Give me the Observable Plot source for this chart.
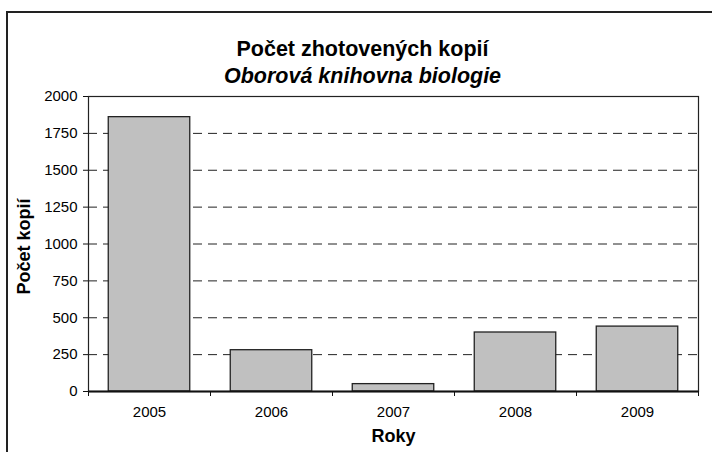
<!DOCTYPE html>
<html>
<head>
<meta charset="utf-8">
<script src="https://cdn.jsdelivr.net/npm/d3@7"></script>
<script src="https://cdn.jsdelivr.net/npm/@observablehq/plot@0.6"></script>
<style>
  html, body { margin: 0; padding: 0; background: #fff; overflow: hidden; }
  #wrap { position: relative; width: 712px; height: 452px; }
  #outer { position: absolute; left: 6px; top: 11px; width: 800px; height: 600px;
           border-left: 2px solid #222; border-top: 2px solid #222; pointer-events: none; }
  #chart { position: absolute; left: 0; top: 0; }
  #chart g[aria-label$="tick label"] { font-size: 15px; }
</style>
</head>
<body>
<div id="wrap"><div id="chart"></div><div id="outer"></div></div>
<script>
const years = [2005, 2006, 2007, 2008, 2009];
const copies = [1860, 280, 50, 400, 440];
const yTicks = [0, 250, 500, 750, 1000, 1250, 1500, 1750, 2000];
const gridValues = [250, 500, 750, 1000, 1250, 1500, 1750];
const title = "Počet zhotovených kopií";
const subtitle = "Oborová knihovna biologie";
const yLabel = "Počet kopií";
const xLabel = "Roky";

const barHalf = 0.334;
const data = years.map((y, i) => ({year: y, value: copies[i]}));
const bounds = years.map(y => y - 0.5).concat([years[years.length - 1] + 0.5]);
const font = "'Liberation Sans', Arial, sans-serif";

const chart = Plot.plot({
  width: 712,
  height: 452,
  marginLeft: 88,
  marginRight: 14,
  marginTop: 96,
  marginBottom: 61,
  style: {fontFamily: font, fontSize: "15px", color: "#000", background: "#fff", overflow: "visible"},
  x: {domain: [bounds[0], bounds[bounds.length - 1]], axis: null},
  y: {domain: [0, 2000], axis: null},
  marks: [
    Plot.ruleY(gridValues, {y: d => d, stroke: "#222", strokeWidth: 1, strokeDasharray: "9,6"}),
    Plot.rectY(data, {x1: d => d.year - barHalf, x2: d => d.year + barHalf, y: "value",
      fill: "#c0c0c0", stroke: "#222", strokeWidth: 1.3}),
    Plot.frame({stroke: "#222", strokeWidth: 1.2}),
    Plot.ruleY([0], {stroke: "#111", strokeWidth: 2}),
    Plot.axisY(yTicks, {tickSize: 5, tickPadding: 6, tickFormat: "d", stroke: "#111", label: null}),
    Plot.axisX(bounds, {tickSize: 5, tickFormat: () => "", stroke: "#111", label: null}),
    Plot.axisX(years, {tickSize: 0, tickPadding: 15, tickFormat: "d", label: null}),
    Plot.text([title], {frameAnchor: "top", dx: -31, dy: -56, fontSize: 21.5, fontWeight: "bold", fill: "#000"}),
    Plot.text([subtitle], {frameAnchor: "top", dx: -31, dy: -29, fontSize: 21.5, fontWeight: "bold", fontStyle: "italic", fill: "#000"}),
    Plot.text([yLabel], {frameAnchor: "left", textAnchor: "middle", dx: -64, dy: 2.5, rotate: -90, fontSize: 18, fontWeight: "bold", fill: "#000"}),
    Plot.text([xLabel], {frameAnchor: "bottom", dy: 50, fontSize: 18, fontWeight: "bold", fill: "#000"})
  ]
});
document.getElementById("chart").appendChild(chart);
</script>
</body>
</html>
